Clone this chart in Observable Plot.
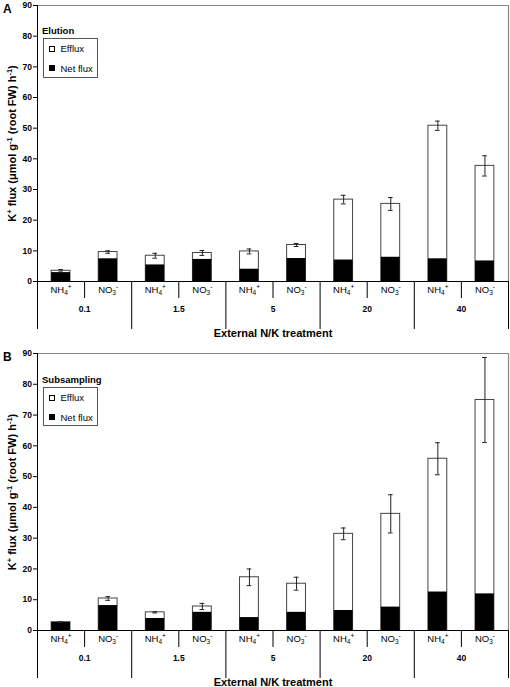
<!DOCTYPE html>
<html>
<head>
<meta charset="utf-8">
<script src="https://cdn.jsdelivr.net/npm/d3@7"></script>
<script src="https://cdn.jsdelivr.net/npm/@observablehq/plot@0.6"></script>
<style>
  body { margin: 0; background: #fff; }
  #chart { width: 510px; font-family: 'Liberation Sans', Arial, Helvetica, sans-serif; }
  .panel { position: relative; }
  .panel svg { display: block; }
  .lgtitle { position: absolute; font-weight: bold; font-size: 9.5px; line-height: 1; color: #000; }
  .lgbox { position: absolute; border: 1px solid #555; box-sizing: border-box; background: #fff; }
  .lgitem { position: absolute; left: 5px; font-size: 9.5px; line-height: 1; display: flex; align-items: center; }
  .lgsw { width: 6px; height: 6px; box-sizing: border-box; border: 1px solid #000; margin-right: 6px; }
</style>
</head>
<body>
<div id="chart"></div>
<script>
// ---------------- data ----------------
const groups = ["0.1", "1.5", "5", "20", "40"];
const ions = ["NH4+", "NO3-"];
const seriesNames = ["Efflux", "Net flux"];
const panelLetters = ["A", "B"];
const legendTitles = ["Elution", "Subsampling"];
const yTicks = [0, 10, 20, 30, 40, 50, 60, 70, 80, 90];
const xTitle = "External N/K treatment";
const yTitle = "K+ flux (μmol g-1 (root FW) h-1)";

// Panel A (Elution)
const A_total = [3.5, 9.6, 8.4, 9.3, 9.8, 11.9, 26.7, 25.3, 50.8, 37.7];
const A_net   = [2.9, 7.4, 5.4, 7.2, 4.0, 7.5, 7.0, 7.9, 7.4, 6.7];
const A_err   = [0.4, 0.4, 0.8, 0.8, 0.8, 0.5, 1.4, 2.1, 1.5, 3.3];
// Panel B (Subsampling)
const B_total = [2.7, 10.4, 5.9, 7.8, 17.3, 15.2, 31.4, 37.9, 55.8, 74.9];
const B_net   = [2.6, 8.1, 3.9, 5.9, 4.2, 5.9, 6.5, 7.6, 12.5, 11.9];
const B_err   = [0.15, 0.6, 0.2, 1.0, 2.7, 2.1, 1.9, 6.2, 5.2, 13.8];

// ---------------- helpers ----------------
const FONT = "'Liberation Sans', Arial, Helvetica, sans-serif";

// rich text: segments [text, 0 normal | 1 sup | -1 sub]
function rich(el, segs, small, supShift, subShift) {
  const sel = d3.select(el);
  sel.text(null);
  let off = 0;
  for (const [t, s] of segs) {
    const target = s === 1 ? -supShift : s === -1 ? subShift : 0;
    const ts = sel.append("tspan").text(t);
    const delta = target - off;
    if (delta !== 0) ts.attr("dy", delta);
    if (s) ts.attr("font-size", small);
    off = target;
  }
}
const richMap = {
  "NH4+": [["NH", 0], ["4", -1], ["+", 1]],
  "NO3-": [["NO", 0], ["3", -1], ["-", 1]]
};
const titleSegs = [["K", 0], ["+", 1], [" flux (μmol g", 0], ["-1", 1], [" (root FW) h", 0], ["-1", 1], [")", 0]];

function panel(idx, total, net, err, cfg) {
  const data = total.map((t, i) => ({
    i, total: t, net: net[i], err: err[i],
    ion: ions[i % 2], group: groups[Math.floor(i / 2)]
  }));
  const bounds = d3.range(0, groups.length + 1).map(k => k * 2);
  const mids = groups.map((g, k) => k * 2 + 1);
  const n = data.length;

  const svg = Plot.plot({
    width: 510,
    height: cfg.height,
    marginLeft: 37,
    marginRight: 2,
    marginTop: cfg.mt,
    marginBottom: cfg.mb,
    x: { domain: [0, n], axis: null },
    y: { domain: [0, 90], axis: null },
    style: { fontFamily: FONT, fontSize: "10px", background: "white", color: "black" },
    marks: [
      // frame (top & right)
      Plot.ruleY([90], { stroke: "#888", strokeWidth: 1.2 }),
      Plot.ruleX([n], { y1: 0, y2: 90, stroke: "#888", strokeWidth: 1.2 }),
      // bars: total (white) and net (black)
      Plot.rect(data, { x1: d => d.i + 0.3, x2: d => d.i + 0.7, y1: 0, y2: "total", fill: "white", stroke: "#444", strokeWidth: 1 }),
      Plot.rect(data, { x1: d => d.i + 0.3, x2: d => d.i + 0.7, y1: 0, y2: "net", fill: "black" }),
      // error bars
      Plot.ruleX(data, { x: d => d.i + 0.5, y1: d => d.total - d.err, y2: d => d.total + d.err, stroke: "#222", strokeWidth: 1 }),
      Plot.ruleY(data, { x1: d => d.i + 0.45, x2: d => d.i + 0.55, y: d => d.total + d.err, stroke: "#222", strokeWidth: 1 }),
      Plot.ruleY(data, { x1: d => d.i + 0.45, x2: d => d.i + 0.55, y: d => d.total - d.err, stroke: "#222", strokeWidth: 1 }),
      // axes lines
      Plot.ruleY([0], { stroke: "black" }),
      Plot.ruleX([0], { y1: 0, y2: 90, stroke: "black" }),
      Plot.axisY(yTicks, { tickSize: 4, tickPadding: 1.5, fontSize: 8.5, fontWeight: "bold", label: null, stroke: "black" }),
      // separators below axis
      Plot.ruleX(bounds, { x: d => d, y1: 0, insetBottom: -48, stroke: "black" }),
      Plot.ruleX(mids, { x: d => d, y1: 0, insetBottom: -17, stroke: "black" }),
      // category labels
      Plot.text(data, { x: d => d.i + 0.5, y: 0, dy: 8, text: "ion", fontSize: 9.5, fill: "black" }),
      // group labels
      Plot.text(groups, { x: (d, k) => k * 2 + 1, y: 0, dy: 28, text: d => d, fontSize: 8.5, fontWeight: "bold", fill: "black" }),
      // x title
      Plot.text([xTitle], { frameAnchor: "bottom", dy: 51.5, text: d => d, fontSize: 11, fontWeight: "bold", textAnchor: "middle", lineAnchor: "middle", fill: "black" }),
      // y title
      Plot.text([yTitle], { frameAnchor: "left", dx: -25, rotate: -90, text: d => d, fontSize: 11, fontWeight: "bold", textAnchor: "middle", lineAnchor: "middle", fill: "black" }),
      // panel letter
      Plot.text([panelLetters[idx]], { frameAnchor: "top-left", dx: -34.5, dy: -1.5, text: d => d, fontSize: 12, fontWeight: "bold", textAnchor: "start", lineAnchor: "top", fill: "black" })
    ]
  });

  // rich text post-processing
  d3.select(svg).selectAll("text").each(function () {
    const t = this.textContent;
    if (richMap[t]) rich(this, richMap[t], 6.5, 3.5, 2.5);
    else if (t === yTitle) rich(this, titleSegs, 7.5, 4, 0);
  });

  const div = document.createElement("div");
  div.className = "panel";
  div.style.height = cfg.height + "px";
  div.appendChild(svg);

  // legend
  const lt = document.createElement("div");
  lt.className = "lgtitle";
  lt.textContent = legendTitles[idx];
  lt.style.left = "42px";
  lt.style.top = (cfg.lgTop - 12) + "px";
  div.appendChild(lt);

  const box = document.createElement("div");
  box.className = "lgbox";
  box.style.left = "42.5px";
  box.style.top = cfg.lgTop + "px";
  box.style.width = "55px";
  box.style.height = cfg.lgH + "px";
  seriesNames.forEach((s, k) => {
    const it = document.createElement("div");
    it.className = "lgitem";
    it.style.top = (5.5 + k * 19.5) + "px";
    const sw = document.createElement("span");
    sw.className = "lgsw";
    sw.style.background = k === 0 ? "white" : "black";
    it.appendChild(sw);
    const tx = document.createElement("span");
    tx.textContent = s;
    it.appendChild(tx);
    box.appendChild(it);
  });
  div.appendChild(box);
  return div;
}

const chart = document.getElementById("chart");
chart.appendChild(panel(0, A_total, A_net, A_err, { height: 343, mt: 5, mb: 62, lgTop: 37.5, lgH: 40 }));
chart.appendChild(panel(1, B_total, B_net, B_err, { height: 344, mt: 10, mb: 57, lgTop: 43.5, lgH: 39 }));
</script>
</body>
</html>
